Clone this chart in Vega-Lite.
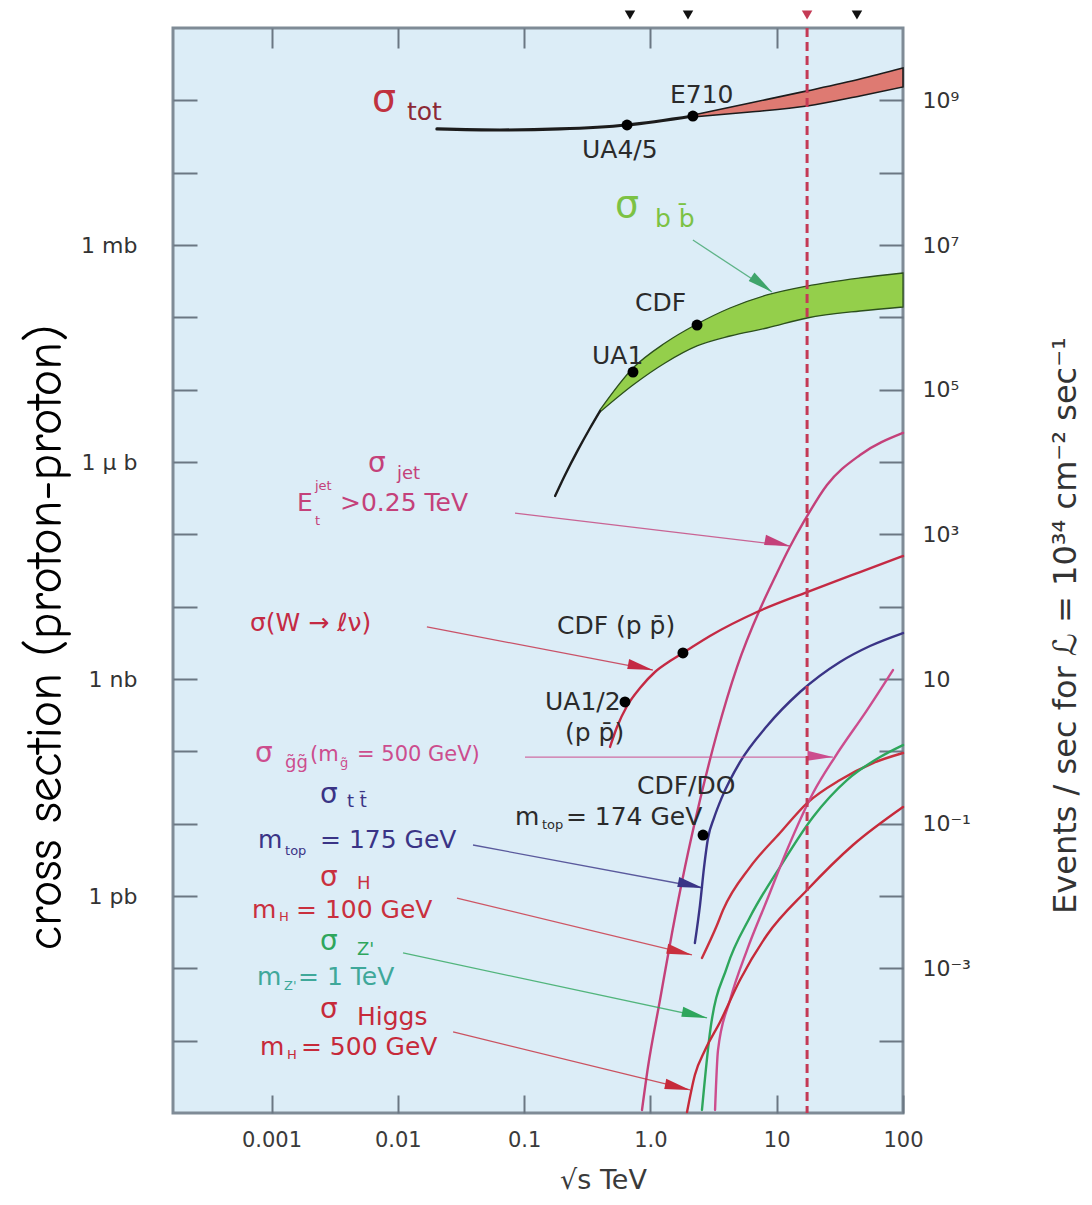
{
"$schema":"https://vega.github.io/schema/vega-lite/v6.json",
"autosize":"none",
"width":730,"height":1085,
"padding":{"left":173,"top":28,"right":189,"bottom":92},
"background":"white",
"config":{
 "view":{"fill":"#dcedf7","stroke":"#7f8b96","strokeWidth":3},
 "axis":{"domain":false,"grid":false,"tickColor":"#6b7783","tickWidth":2,"labelFont":"DejaVu Sans","labelColor":"#3a3a3a","titleFont":"DejaVu Sans","titleColor":"#3a3a3a","titleFontWeight":"normal","labelOverlap":false,"labelFlush":false},
 "text":{"font":"DejaVu Sans"}
},
"datasets":{
 "curves":[
  {"s":"totline","x":0.0204,"y":40.2},{"s":"totline","x":0.0644,"y":38.9},{"s":"totline","x":0.192,"y":40.2},{"s":"totline","x":0.653,"y":45.6},{"s":"totline","x":2.17,"y":60.7},
  {"s":"bbline","x":0.176,"y":0.000339},{"s":"bbline","x":0.211,"y":0.000661},{"s":"bbline","x":0.267,"y":0.00147},{"s":"bbline","x":0.333,"y":0.00295},{"s":"bbline","x":0.399,"y":0.00507},
  {"s":"jet","x":0.858,"y":1.10e-12},{"s":"jet","x":0.957,"y":4.32e-12},{"s":"jet","x":1.191,"y":3.65e-11},{"s":"jet","x":1.483,"y":3.08e-10},{"s":"jet","x":1.879,"y":2.51e-9},{"s":"jet","x":2.47,"y":2.12e-8},{"s":"jet","x":3.37,"y":1.79e-7},{"s":"jet","x":4.85,"y":1.46e-6},{"s":"jet","x":7.38,"y":9.27e-6},{"s":"jet","x":9.70,"y":2.57e-5},{"s":"jet","x":12.7,"y":6.68e-5},{"s":"jet","x":16.7,"y":1.58e-4},{"s":"jet","x":25.0,"y":4.81e-4},{"s":"jet","x":45.7,"y":1.25e-3},{"s":"jet","x":100,"y":2.52e-3},
  {"s":"W","x":0.479,"y":1.15e-7},{"s":"W","x":0.544,"y":2.17e-7},{"s":"W","x":0.653,"y":4.23e-7},{"s":"W","x":0.827,"y":7.50e-7},{"s":"W","x":1.087,"y":1.25e-6},{"s":"W","x":1.429,"y":1.77e-6},{"s":"W","x":1.81,"y":2.29e-6},{"s":"W","x":2.96,"y":3.93e-6},{"s":"W","x":6.98,"y":8.43e-6},{"s":"W","x":17.4,"y":1.59e-5},{"s":"W","x":45.7,"y":3.01e-5},{"s":"W","x":100,"y":5.01e-5},
  {"s":"tt","x":2.25,"y":2.24e-10},{"s":"tt","x":2.47,"y":7.50e-10},{"s":"tt","x":2.66,"y":2.51e-9},{"s":"tt","x":2.86,"y":6.33e-9},{"s":"tt","x":3.19,"y":1.20e-8},{"s":"tt","x":3.69,"y":2.33e-8},{"s":"tt","x":5.12,"y":7.11e-8},{"s":"tt","x":8.38,"y":2.24e-7},{"s":"tt","x":15.3,"y":6.61e-7},{"s":"tt","x":31.7,"y":1.72e-6},{"s":"tt","x":54.8,"y":2.86e-6},{"s":"tt","x":100,"y":4.32e-6},
  {"s":"H","x":2.56,"y":1.39e-10},{"s":"H","x":3.37,"y":3.97e-10},{"s":"H","x":3.76,"y":6.40e-10},{"s":"H","x":6.15,"y":2.51e-9},{"s":"H","x":10.6,"y":7.43e-9},{"s":"H","x":17.4,"y":1.93e-8},{"s":"H","x":31.7,"y":4.01e-8},{"s":"H","x":57.9,"y":6.89e-8},{"s":"H","x":100,"y":9.48e-8},
  {"s":"Zp","x":2.56,"y":1.10e-12},{"s":"Zp","x":2.96,"y":1.28e-11},{"s":"Zp","x":4.04,"y":1.04e-10},{"s":"Zp","x":6.15,"y":5.12e-10},{"s":"Zp","x":10.6,"y":2.51e-9},{"s":"Zp","x":19.4,"y":1.24e-8},{"s":"Zp","x":36.0,"y":4.01e-8},{"s":"Zp","x":65.8,"y":8.34e-8},{"s":"Zp","x":100,"y":1.22e-7},
  {"s":"gg","x":3.25,"y":1.10e-12},{"s":"gg","x":3.43,"y":7.42e-12},{"s":"gg","x":4.27,"y":3.65e-11},{"s":"gg","x":5.82,"y":1.79e-10},{"s":"gg","x":8.38,"y":8.79e-10},{"s":"gg","x":12.07,"y":4.32e-9},{"s":"gg","x":19.4,"y":2.65e-8},{"s":"gg","x":28.9,"y":8.34e-8},{"s":"gg","x":51.9,"y":3.72e-7},{"s":"gg","x":83.3,"y":1.33e-6},
  {"s":"Higgs","x":1.95,"y":1.03e-12},{"s":"Higgs","x":2.25,"y":3.35e-12},{"s":"Higgs","x":2.71,"y":7.42e-12},{"s":"Higgs","x":3.56,"y":1.81e-11},{"s":"Higgs","x":5.12,"y":6.89e-11},{"s":"Higgs","x":8.38,"y":2.89e-10},{"s":"Higgs","x":17.4,"y":1.21e-9},{"s":"Higgs","x":40.2,"y":5.07e-9},{"s":"Higgs","x":100,"y":1.70e-8}
 ],
 "totband":[
  {"x":2.17,"y":58.9,"y2":62.7},{"x":6.15,"y":69.0,"y2":91.9},{"x":17.4,"y":83.5,"y2":135},{"x":45.7,"y":115,"y2":197},{"x":100,"y":153,"y2":280}
 ],
 "bbband":[
  {"x":0.399,"y":0.00491,"y2":0.00524},{"x":0.728,"y":0.01159,"y2":0.0199},{"x":1.306,"y":0.02338,"y2":0.0442},{"x":2.34,"y":0.0402,"y2":0.0809},{"x":4.27,"y":0.0552,"y2":0.1346},{"x":8.38,"y":0.0712,"y2":0.2037},{"x":17.4,"y":0.0979,"y2":0.271},{"x":45.7,"y":0.1224,"y2":0.350},{"x":100,"y":0.139,"y2":0.410}
 ],
 "pointers":[
  {"s":"jet","x":0.0847,"y":1.97e-4,"x2":12.7,"y2":6.90e-5},
  {"s":"W","x":0.0170,"y":5.24e-6,"x2":1.048,"y2":1.33e-6},
  {"s":"gg","x":0.1016,"y":8.34e-8,"x2":27.9,"y2":8.34e-8},
  {"s":"tt","x":0.0394,"y":5.07e-9,"x2":2.61,"y2":1.29e-9},
  {"s":"H","x":0.0294,"y":9.38e-10,"x2":2.135,"y2":1.53e-10},
  {"s":"Zp","x":0.0110,"y":1.63e-10,"x2":2.81,"y2":2.06e-11},
  {"s":"Higgs","x":0.0274,"y":1.32e-11,"x2":2.06,"y2":2.08e-12},
  {"s":"bbarrow","x":2.17,"y":1.17,"x2":9.18,"y2":0.224}
 ],
 "dots":[
  {"n":"UA4/5","x":0.653,"y":45.6},{"n":"E710","x":2.17,"y":60.7},{"n":"UA1","x":0.728,"y":0.01754},{"n":"CDF","x":2.34,"y":0.0783},{"n":"CDF W","x":1.81,"y":2.29e-6},{"n":"UA1/2 W","x":0.629,"y":4.81e-7},{"n":"CDF/D0 top","x":2.61,"y":6.97e-9}
 ],
 "colliders":[
  {"n":"SppS","x":0.689,"y":1514},{"n":"Tevatron","x":1.985,"y":1514},{"n":"LHC","x":17.4,"y":1514},{"n":"SSC","x":43.2,"y":1514}
 ],
 "lhc":[{"x":17.4}],
 "labels":[
  {"t":"σ","x":0.006249,"y":101,"s":"tot","r":"big"},
  {"t":"tot","x":0.011826,"y":69.0,"s":"tot2","r":"lbl"},
  {"t":"E710","x":1.4294,"y":118.5,"s":"exp","r":"lbl"},
  {"t":"UA4/5","x":0.2873,"y":20.6,"s":"exp","r":"lbl"},
  {"t":"σ","x":0.5244,"y":3.46,"s":"bb","r":"big"},
  {"t":"b b\u0304","x":1.087,"y":2.29,"s":"bb","r":"lbl"},
  {"t":"CDF","x":0.7550,"y":0.158,"s":"exp","r":"lbl"},
  {"t":"UA1","x":0.3448,"y":0.0292,"s":"exp","r":"lbl"},
  {"t":"σ","x":0.005808,"y":9.38e-4,"s":"jet","r":"sym"},
  {"t":"jet","x":0.009856,"y":6.82e-4,"s":"jet","r":"sub"},
  {"t":"E","x":0.001592,"y":2.71e-4,"s":"jet","r":"lbl"},
  {"t":"jet","x":0.00221,"y":4.66e-4,"s":"jet","r":"tiny"},
  {"t":"t","x":0.00221,"y":1.53e-4,"s":"jet","r":"tiny"},
  {"t":">0.25 TeV","x":0.003487,"y":2.71e-4,"s":"jet","r":"lbl"},
  {"t":"σ(W → ℓν)","x":6.76e-4,"y":5.94e-6,"s":"W","r":"lbl"},
  {"t":"CDF (p p\u0304)","x":0.1822,"y":5.40e-6,"s":"exp","r":"lbl"},
  {"t":"UA1/2","x":0.1464,"y":4.81e-7,"s":"exp","r":"lbl"},
  {"t":"(p p\u0304)","x":0.2108,"y":1.79e-7,"s":"exp","r":"lbl"},
  {"t":"σ","x":7.40e-4,"y":9.18e-8,"s":"gg","r":"sym"},
  {"t":"g\u0303g\u0303","x":0.001279,"y":6.89e-8,"s":"gg","r":"sub"},
  {"t":"(m","x":0.002017,"y":8.89e-8,"s":"gg","r":"mid"},
  {"t":"g\u0303","x":0.003487,"y":6.89e-8,"s":"gg","r":"tiny"},
  {"t":"= 500 GeV)","x":0.004753,"y":8.89e-8,"s":"gg","r":"mid"},
  {"t":"σ","x":0.002421,"y":2.49e-8,"s":"tt","r":"sym"},
  {"t":"t t\u0304","x":0.003961,"y":1.99e-8,"s":"tt","r":"sub"},
  {"t":"m","x":7.82e-4,"y":5.94e-9,"s":"tt","r":"lbl"},
  {"t":"top","x":0.001280,"y":4.19e-9,"s":"tt","r":"tiny"},
  {"t":"= 175 GeV","x":0.002421,"y":5.94e-9,"s":"tt","r":"lbl"},
  {"t":"σ","x":0.002421,"y":1.77e-9,"s":"H","r":"sym"},
  {"t":"H","x":0.004753,"y":1.46e-9,"s":"H","r":"sub"},
  {"t":"m","x":7.01e-4,"y":6.40e-10,"s":"H","r":"lbl"},
  {"t":"H","x":0.001146,"y":5.12e-10,"s":"H","r":"tiny"},
  {"t":"= 100 GeV","x":0.001563,"y":6.40e-10,"s":"H","r":"lbl"},
  {"t":"σ","x":0.002421,"y":2.31e-10,"s":"Zp","r":"sym"},
  {"t":"Z'","x":0.004753,"y":1.79e-10,"s":"Zp","r":"sub"},
  {"t":"m","x":7.68e-4,"y":7.59e-11,"s":"Zp2","r":"lbl"},
  {"t":"Z'","x":0.001256,"y":5.69e-11,"s":"Zp2","r":"tiny"},
  {"t":"= 1 TeV","x":0.001623,"y":7.59e-11,"s":"Zp2","r":"lbl"},
  {"t":"σ","x":0.002421,"y":2.65e-11,"s":"Higgs","r":"sym"},
  {"t":"Higgs","x":0.004753,"y":2.12e-11,"s":"Higgs","r":"lbl"},
  {"t":"m","x":8.11e-4,"y":8.17e-12,"s":"Higgs","r":"lbl"},
  {"t":"H","x":0.001325,"y":6.33e-12,"s":"Higgs","r":"tiny"},
  {"t":"= 500 GeV","x":0.001711,"y":8.17e-12,"s":"Higgs","r":"lbl"},
  {"t":"CDF/DO","x":0.7833,"y":3.31e-8,"s":"exp","r":"lbl"},
  {"t":"m","x":0.0847,"y":1.24e-8,"s":"exp","r":"lbl"},
  {"t":"top","x":0.1384,"y":9.57e-9,"s":"exp","r":"tiny"},
  {"t":"= 174 GeV","x":0.2142,"y":1.24e-8,"s":"exp","r":"lbl"}
 ]
},
"layer":[
 {"data":{"name":"totband"},
  "mark":{"type":"area","interpolate":"monotone","fill":"#de7a72","stroke":"#1c1c1c","strokeWidth":1.6},
  "encoding":{
   "x":{"field":"x","type":"quantitative","scale":{"type":"log","domain":[0.000166,100],"nice":false},"axis":null},
   "y":{"field":"y","type":"quantitative","scale":{"type":"log","domain":[1e-12,1000],"nice":false},"axis":null},
   "y2":{"field":"y2"}}},
 {"data":{"name":"bbband"},
  "mark":{"type":"area","interpolate":"monotone","fill":"#94cf4b","stroke":"#2c4f1c","strokeWidth":1.3},
  "encoding":{
   "x":{"field":"x","type":"quantitative","scale":{"type":"log","domain":[0.000166,100],"nice":false},"axis":null},
   "y":{"field":"y","type":"quantitative","scale":{"type":"log","domain":[1e-12,1000],"nice":false},"axis":null},
   "y2":{"field":"y2"}}},
 {"data":{"name":"curves"},
  "mark":{"type":"line","interpolate":"monotone","strokeCap":"round"},
  "encoding":{
   "x":{"field":"x","type":"quantitative","scale":{"type":"log","domain":[0.000166,100],"nice":false},"axis":null},
   "y":{"field":"y","type":"quantitative","scale":{"type":"log","domain":[1e-12,1000],"nice":false},"axis":null},
   "strokeWidth":{"condition":{"test":"datum.s==='totline'","value":3.2},"value":2.4},
   "color":{"field":"s","type":"nominal","legend":null,"scale":{"domain":["totline","bbline","tot","tot2","bb","bbarrow","jet","W","gg","tt","H","Zp","Zp2","Higgs","exp"],"range":["#1c1c1c","#1c1c1c","#c0323f","#8c2a36","#7cc244","#3fa56b","#c4417a","#c42a44","#cc4d8e","#3a3486","#c9303e","#2ea65c","#3fa89a","#c62a3a","#2b2b2b"]}}}},
 {"data":{"name":"pointers"},
  "mark":{"type":"rule","strokeWidth":1.3,"opacity":0.8},
  "encoding":{
   "x":{"field":"x","type":"quantitative","scale":{"type":"log","domain":[0.000166,100],"nice":false},"axis":null},
   "y":{"field":"y","type":"quantitative","scale":{"type":"log","domain":[1e-12,1000],"nice":false},"axis":null},
   "x2":{"field":"x2"},"y2":{"field":"y2"},
   "color":{"field":"s","type":"nominal","legend":null,"scale":{"domain":["totline","bbline","tot","tot2","bb","bbarrow","jet","W","gg","tt","H","Zp","Zp2","Higgs","exp"],"range":["#1c1c1c","#1c1c1c","#c0323f","#8c2a36","#7cc244","#3fa56b","#c4417a","#c42a44","#cc4d8e","#3a3486","#c9303e","#2ea65c","#3fa89a","#c62a3a","#2b2b2b"]}}}},
 {"data":{"name":"pointers"},
  "mark":{"type":"point","shape":"M0,0L-2,-0.5L-2,0.3Z","filled":true,"opacity":1,"size":650},
  "encoding":{
   "x":{"field":"x2","type":"quantitative","scale":{"type":"log","domain":[0.000166,100],"nice":false},"axis":null},
   "y":{"field":"y2","type":"quantitative","scale":{"type":"log","domain":[1e-12,1000],"nice":false},"axis":null},
   "angle":{"condition":[{"test":"datum.s==='bbarrow'","value":34},{"test":"datum.s==='gg'","value":0}],"value":11},
   "color":{"field":"s","type":"nominal","legend":null,"scale":{"domain":["totline","bbline","tot","tot2","bb","bbarrow","jet","W","gg","tt","H","Zp","Zp2","Higgs","exp"],"range":["#1c1c1c","#1c1c1c","#c0323f","#8c2a36","#7cc244","#3fa56b","#c4417a","#c42a44","#cc4d8e","#3a3486","#c9303e","#2ea65c","#3fa89a","#c62a3a","#2b2b2b"]}}}},
 {"data":{"name":"lhc"},
  "mark":{"type":"rule","strokeDash":[9,5],"strokeWidth":3,"color":"#c43a55"},
  "encoding":{
   "x":{"field":"x","type":"quantitative","scale":{"type":"log","domain":[0.000166,100],"nice":false},"axis":null}}},
 {"data":{"name":"dots"},
  "mark":{"type":"point","shape":"circle","filled":true,"opacity":1,"size":120,"color":"#000000"},
  "encoding":{
   "x":{"field":"x","type":"quantitative","scale":{"type":"log","domain":[0.000166,100],"nice":false},
     "axis":{"orient":"bottom","values":[0.001,0.01,0.1,1,10,100],"format":"~g","labelExpr":"datum.value > 0.99 && datum.value < 1.01 ? '1.0' : datum.label","tickSize":-18,"labelPadding":34,"labelFontSize":21,"title":"√s   TeV","titleFontSize":27,"titleX":430,"titleY":67,"titleBaseline":"middle","titleAlign":"center"}},
   "y":{"field":"y","type":"quantitative","scale":{"type":"log","domain":[1e-12,1000],"nice":false},
     "axis":{"orient":"left","values":[1e-11,1e-10,1e-9,1e-8,1e-7,1e-6,1e-5,1e-4,1e-3,1e-2,1e-1,1,10,100],"labelExpr":"round(log(datum.value)/LN10) == 0 ? '1 mb' : round(log(datum.value)/LN10) == -3 ? '1 \u00b5 b' : round(log(datum.value)/LN10) == -6 ? '1 nb' : round(log(datum.value)/LN10) == -9 ? '1 pb' : ''","tickSize":-24,"labelPadding":60,"labelFontSize":22,"labelColor":"#333333","title":"cross section (proton-proton)","titleFont":"Comic Sans MS, Comic Neue, DejaVu Sans","titleFontSize":50,"titleColor":"#000000","titleAngle":270,"titleX":-128,"titleY":609,"titleBaseline":"middle","titleAlign":"center"}}}},
 {"data":{"name":"labels"},
  "mark":{"type":"text","align":"left","baseline":"middle"},
  "encoding":{
   "x":{"field":"x","type":"quantitative","scale":{"type":"log","domain":[0.000166,100],"nice":false},"axis":null},
   "y":{"field":"y","type":"quantitative","scale":{"type":"log","domain":[1e-12,1000],"nice":false},"axis":null},
   "text":{"field":"t"},
   "size":{"field":"r","type":"nominal","legend":null,"scale":{"type":"ordinal","domain":["big","sym","lbl","mid","sub","tiny"],"range":[38,28,25,21,18,13]}},
   "color":{"field":"s","type":"nominal","legend":null,"scale":{"domain":["totline","bbline","tot","tot2","bb","bbarrow","jet","W","gg","tt","H","Zp","Zp2","Higgs","exp"],"range":["#1c1c1c","#1c1c1c","#c0323f","#8c2a36","#7cc244","#3fa56b","#c4417a","#c42a44","#cc4d8e","#3a3486","#c9303e","#2ea65c","#3fa89a","#c62a3a","#2b2b2b"]}}}},
 {"data":{"name":"colliders"},
  "mark":{"type":"point","shape":"triangle-down","filled":true,"opacity":1,"size":110},
  "encoding":{
   "x":{"field":"x","type":"quantitative","scale":{"type":"log","domain":[0.000166,100],"nice":false},
     "axis":{"orient":"top","values":[0.001,0.01,0.1,1,10],"labels":false,"tickSize":-20,"title":null}},
   "y":{"field":"y","type":"quantitative","scale":{"type":"log","domain":[1e-12,1000],"nice":false},
     "axis":{"orient":"right","values":[1e-11,1e-10,1e-9,1e-8,1e-7,1e-6,1e-5,1e-4,1e-3,1e-2,1e-1,1,10,100],"labelExpr":"round(log(datum.value)/LN10) == 2 ? '10\u2079' : round(log(datum.value)/LN10) == 0 ? '10\u2077' : round(log(datum.value)/LN10) == -2 ? '10\u2075' : round(log(datum.value)/LN10) == -4 ? '10\u00b3' : round(log(datum.value)/LN10) == -6 ? '10' : round(log(datum.value)/LN10) == -8 ? '10\u207b\u00b9' : round(log(datum.value)/LN10) == -10 ? '10\u207b\u00b3' : ''","tickSize":-24,"labelPadding":43,"labelFontSize":22,"labelColor":"#333333","title":"Events / sec for \u2112 = 10\u00b3\u2074 cm\u207b\u00b2 sec\u207b\u00b9","titleFontSize":32,"titleColor":"#333333","titleAngle":270,"titleX":162,"titleY":597,"titleBaseline":"middle","titleAlign":"center"}},
   "color":{"condition":{"test":"datum.n==='LHC'","value":"#c43a55"},"value":"#111111"}}}
],
"resolve":{"axis":{"x":"independent","y":"independent"}}
}
